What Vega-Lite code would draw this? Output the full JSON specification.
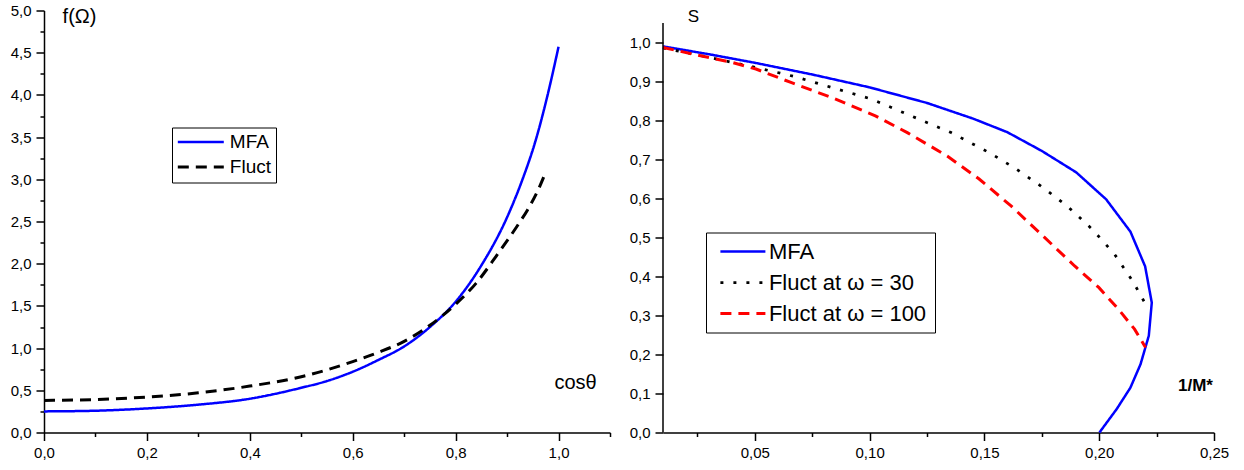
{
  "$schema": "https://vega.github.io/schema/vega-lite/v6.json",
  "padding": {"left": 10, "top": 3.5, "right": 5, "bottom": 5},
  "spacing": 18,
  "config": {
    "locale": {"number": {"decimal": ",", "thousands": ".", "grouping": [3], "currency": ["", " €"]}},
    "view": {"stroke": null},
    "font": "Liberation Sans",
    "axis": {"domainColor": "black", "domainWidth": 1.5, "tickColor": "black", "tickWidth": 1.5, "labelColor": "black", "labelFont": "Liberation Sans", "grid": false, "labelPadding": 5, "titleColor": "black", "titleFont": "Liberation Sans", "labelOverlap": false, "labelFlush": false, "titleAngle": 0, "titleAlign": "center", "titleBaseline": "middle"},
    "legend": {"labelColor": "black", "labelFont": "Liberation Sans", "fillColor": "white", "strokeColor": "black"}
  },
  "resolve": {"scale": {"color": "independent", "strokeDash": "independent", "strokeWidth": "independent"}, "legend": {"color": "independent", "strokeDash": "independent"}},
  "datasets": {
    "left": [
      {"series": "MFA", "i": 0, "x": 0.0, "f": 0.25},
      {"series": "MFA", "i": 1, "x": 0.1, "f": 0.258},
      {"series": "MFA", "i": 2, "x": 0.2, "f": 0.285},
      {"series": "MFA", "i": 3, "x": 0.3, "f": 0.33},
      {"series": "MFA", "i": 4, "x": 0.4, "f": 0.40},
      {"series": "MFA", "i": 5, "x": 0.5, "f": 0.53},
      {"series": "MFA", "i": 6, "x": 0.55, "f": 0.61},
      {"series": "MFA", "i": 7, "x": 0.6, "f": 0.72},
      {"series": "MFA", "i": 8, "x": 0.65, "f": 0.86},
      {"series": "MFA", "i": 9, "x": 0.7, "f": 1.02},
      {"series": "MFA", "i": 10, "x": 0.75, "f": 1.25},
      {"series": "MFA", "i": 11, "x": 0.8, "f": 1.55},
      {"series": "MFA", "i": 12, "x": 0.85, "f": 1.98},
      {"series": "MFA", "i": 13, "x": 0.9, "f": 2.55},
      {"series": "MFA", "i": 14, "x": 0.93, "f": 3.0},
      {"series": "MFA", "i": 15, "x": 0.955, "f": 3.45},
      {"series": "MFA", "i": 16, "x": 0.978, "f": 3.98},
      {"series": "MFA", "i": 17, "x": 1.0, "f": 4.57},
      {"series": "Fluct", "i": 0, "x": 0.0, "f": 0.38},
      {"series": "Fluct", "i": 1, "x": 0.1, "f": 0.39},
      {"series": "Fluct", "i": 2, "x": 0.2, "f": 0.42},
      {"series": "Fluct", "i": 3, "x": 0.3, "f": 0.47},
      {"series": "Fluct", "i": 4, "x": 0.4, "f": 0.55},
      {"series": "Fluct", "i": 5, "x": 0.5, "f": 0.66},
      {"series": "Fluct", "i": 6, "x": 0.6, "f": 0.84},
      {"series": "Fluct", "i": 7, "x": 0.65, "f": 0.95},
      {"series": "Fluct", "i": 8, "x": 0.7, "f": 1.08},
      {"series": "Fluct", "i": 9, "x": 0.75, "f": 1.27},
      {"series": "Fluct", "i": 10, "x": 0.8, "f": 1.52},
      {"series": "Fluct", "i": 11, "x": 0.84, "f": 1.77},
      {"series": "Fluct", "i": 12, "x": 0.88, "f": 2.1},
      {"series": "Fluct", "i": 13, "x": 0.92, "f": 2.45},
      {"series": "Fluct", "i": 14, "x": 0.94, "f": 2.64},
      {"series": "Fluct", "i": 15, "x": 0.96, "f": 2.87},
      {"series": "Fluct", "i": 16, "x": 0.972, "f": 3.04}
    ],
    "right": [
      {"curve": "MFA", "i": 0, "x": 0.01, "s": 0.99},
      {"curve": "MFA", "i": 1, "x": 0.03, "s": 0.97},
      {"curve": "MFA", "i": 2, "x": 0.05, "s": 0.948},
      {"curve": "MFA", "i": 3, "x": 0.075, "s": 0.918},
      {"curve": "MFA", "i": 4, "x": 0.10, "s": 0.885},
      {"curve": "MFA", "i": 5, "x": 0.125, "s": 0.845},
      {"curve": "MFA", "i": 6, "x": 0.145, "s": 0.805},
      {"curve": "MFA", "i": 7, "x": 0.16, "s": 0.77},
      {"curve": "MFA", "i": 8, "x": 0.175, "s": 0.722},
      {"curve": "MFA", "i": 9, "x": 0.19, "s": 0.667},
      {"curve": "MFA", "i": 10, "x": 0.203, "s": 0.598},
      {"curve": "MFA", "i": 11, "x": 0.2136, "s": 0.515},
      {"curve": "MFA", "i": 12, "x": 0.220, "s": 0.426},
      {"curve": "MFA", "i": 13, "x": 0.2229, "s": 0.333},
      {"curve": "MFA", "i": 14, "x": 0.2216, "s": 0.248},
      {"curve": "MFA", "i": 15, "x": 0.218, "s": 0.175},
      {"curve": "MFA", "i": 16, "x": 0.2136, "s": 0.115},
      {"curve": "MFA", "i": 17, "x": 0.2076, "s": 0.06},
      {"curve": "MFA", "i": 18, "x": 0.2001, "s": 0.0},
      {"curve": "Fluct at ω = 30", "i": 0, "x": 0.01, "s": 0.986},
      {"curve": "Fluct at ω = 30", "i": 1, "x": 0.03, "s": 0.962},
      {"curve": "Fluct at ω = 30", "i": 2, "x": 0.0505, "s": 0.936},
      {"curve": "Fluct at ω = 30", "i": 3, "x": 0.0678, "s": 0.912},
      {"curve": "Fluct at ω = 30", "i": 4, "x": 0.085, "s": 0.882},
      {"curve": "Fluct at ω = 30", "i": 5, "x": 0.1008, "s": 0.855},
      {"curve": "Fluct at ω = 30", "i": 6, "x": 0.118, "s": 0.812},
      {"curve": "Fluct at ω = 30", "i": 7, "x": 0.1355, "s": 0.769},
      {"curve": "Fluct at ω = 30", "i": 8, "x": 0.152, "s": 0.718},
      {"curve": "Fluct at ω = 30", "i": 9, "x": 0.163, "s": 0.679},
      {"curve": "Fluct at ω = 30", "i": 10, "x": 0.1746, "s": 0.632},
      {"curve": "Fluct at ω = 30", "i": 11, "x": 0.186, "s": 0.581},
      {"curve": "Fluct at ω = 30", "i": 12, "x": 0.197, "s": 0.521},
      {"curve": "Fluct at ω = 30", "i": 13, "x": 0.2067, "s": 0.457},
      {"curve": "Fluct at ω = 30", "i": 14, "x": 0.2145, "s": 0.389},
      {"curve": "Fluct at ω = 30", "i": 15, "x": 0.2206, "s": 0.325},
      {"curve": "Fluct at ω = 100", "i": 0, "x": 0.01, "s": 0.987},
      {"curve": "Fluct at ω = 100", "i": 1, "x": 0.04, "s": 0.949},
      {"curve": "Fluct at ω = 100", "i": 2, "x": 0.0505, "s": 0.932},
      {"curve": "Fluct at ω = 100", "i": 3, "x": 0.066, "s": 0.897},
      {"curve": "Fluct at ω = 100", "i": 4, "x": 0.0834, "s": 0.859},
      {"curve": "Fluct at ω = 100", "i": 5, "x": 0.1025, "s": 0.812},
      {"curve": "Fluct at ω = 100", "i": 6, "x": 0.1164, "s": 0.769},
      {"curve": "Fluct at ω = 100", "i": 7, "x": 0.1338, "s": 0.709},
      {"curve": "Fluct at ω = 100", "i": 8, "x": 0.1477, "s": 0.650},
      {"curve": "Fluct at ω = 100", "i": 9, "x": 0.1616, "s": 0.581},
      {"curve": "Fluct at ω = 100", "i": 10, "x": 0.1755, "s": 0.504},
      {"curve": "Fluct at ω = 100", "i": 11, "x": 0.1893, "s": 0.427},
      {"curve": "Fluct at ω = 100", "i": 12, "x": 0.1998, "s": 0.372},
      {"curve": "Fluct at ω = 100", "i": 13, "x": 0.2084, "s": 0.316},
      {"curve": "Fluct at ω = 100", "i": 14, "x": 0.2154, "s": 0.265},
      {"curve": "Fluct at ω = 100", "i": 15, "x": 0.2202, "s": 0.218}
    ]
  },
  "hconcat": [
    {
      "width": 566,
      "height": 422,
      "data": {"name": "left"},
      "mark": {"type": "line", "interpolate": "monotone"},
      "encoding": {
        "x": {"field": "x", "type": "quantitative",
          "scale": {"domain": [0, 1.1], "nice": false, "zero": false},
          "axis": {"values": [0, 0.1, 0.2, 0.3, 0.4, 0.5, 0.6, 0.7, 0.8, 0.9, 1.0, 1.1], "format": ".1f",
            "labelExpr": "round(datum.value*10) % 2 == 0 ? datum.label : ''",
            "tickSize": {"condition": {"test": "round(datum.value*10) % 2 == 0", "value": 8}, "value": 4},
            "labelFontSize": 15,
            "title": "cosθ", "titleX": 531, "titleY": -50, "titleFontSize": 20, "titleFontWeight": "normal"}},
        "y": {"field": "f", "type": "quantitative",
          "scale": {"domain": [0, 5], "nice": false, "zero": false},
          "axis": {"values": [0, 0.25, 0.5, 0.75, 1, 1.25, 1.5, 1.75, 2, 2.25, 2.5, 2.75, 3, 3.25, 3.5, 3.75, 4, 4.25, 4.5, 4.75, 5], "format": ".1f",
            "labelExpr": "round(datum.value*4) % 2 == 0 ? datum.label : ''",
            "tickSize": {"condition": {"test": "round(datum.value*4) % 2 == 0", "value": 8}, "value": 4},
            "labelFontSize": 15,
            "title": "f(Ω)", "titleX": 35, "titleY": 5.5, "titleFontSize": 20, "titleFontWeight": "normal"}},
        "color": {"field": "series", "type": "nominal",
          "scale": {"domain": ["MFA", "Fluct"], "range": ["#0000ff", "#000000"]},
          "legend": {"title": null, "orient": "none", "legendX": 128, "legendY": 117, "padding": 5, "symbolType": "M-3,0H3", "symbolSize": 235, "symbolOffset": 14.3, "symbolStrokeWidth": 2.5, "labelFontSize": 19, "labelOffset": 19.5, "rowPadding": 5}},
        "strokeDash": {"field": "series", "type": "nominal",
          "scale": {"domain": ["MFA", "Fluct"], "range": [[1, 0], [11, 7]]},
          "legend": {"title": null, "orient": "none", "legendX": 128, "legendY": 117, "padding": 5, "symbolType": "M-3,0H3", "symbolSize": 235, "symbolOffset": 14.3, "symbolStrokeWidth": 2.5, "labelFontSize": 19, "labelOffset": 19.5, "rowPadding": 5}},
        "strokeWidth": {"field": "series", "type": "nominal",
          "scale": {"domain": ["MFA", "Fluct"], "range": [2.5, 3]}, "legend": null},
        "order": {"field": "i", "type": "quantitative"}
      }
    },
    {
      "width": 551,
      "height": 422,
      "layer": [
        {
          "data": {"name": "right"},
          "mark": {"type": "line"},
          "encoding": {
            "x": {"field": "x", "type": "quantitative",
              "scale": {"domain": [0.01, 0.25], "nice": false, "zero": false},
              "axis": {"values": [0.025, 0.05, 0.075, 0.1, 0.125, 0.15, 0.175, 0.2, 0.225, 0.25], "format": ".2f",
                "labelExpr": "round(datum.value*40) % 2 == 0 ? datum.label : ''",
                "tickSize": {"condition": {"test": "round(datum.value*40) % 2 == 0", "value": 8}, "value": 4},
                "labelFontSize": 15,
                "title": "1/M*", "titleX": 532, "titleY": -47, "titleFontSize": 17, "titleFontWeight": "bold"}},
            "y": {"field": "s", "type": "quantitative",
              "scale": {"domain": [0, 1.0821], "nice": false, "zero": false},
              "axis": {"values": [0, 0.05, 0.1, 0.15, 0.2, 0.25, 0.3, 0.35, 0.4, 0.45, 0.5, 0.55, 0.6, 0.65, 0.7, 0.75, 0.8, 0.85, 0.9, 0.95, 1.0, 1.05], "format": ".1f",
                "domain": false,
                "labelExpr": "round(datum.value*20) % 2 == 0 ? datum.label : ''",
                "tickSize": {"condition": {"test": "round(datum.value*20) % 2 == 0", "value": 8}, "value": 4},
                "labelFontSize": 15,
                "title": "S", "titleX": 30, "titleY": 6, "titleFontSize": 17, "titleFontWeight": "normal"}},
            "color": {"field": "curve", "type": "nominal",
              "scale": {"domain": ["MFA", "Fluct at ω = 30", "Fluct at ω = 100"], "range": ["#0000ff", "#000000", "#ff0000"]},
              "legend": {"title": null, "orient": "none", "legendX": 43, "legendY": 222, "padding": 8, "symbolType": "M-3,0H3", "symbolSize": 225, "symbolOffset": 17.9, "symbolStrokeWidth": 2.5, "labelFontSize": 22, "labelOffset": 15, "rowPadding": 9}},
            "strokeDash": {"field": "curve", "type": "nominal",
              "scale": {"domain": ["MFA", "Fluct at ω = 30", "Fluct at ω = 100"], "range": [[1, 0], [3, 10], [11, 7]]},
              "legend": {"title": null, "orient": "none", "legendX": 43, "legendY": 222, "padding": 8, "symbolType": "M-3,0H3", "symbolSize": 225, "symbolOffset": 17.9, "symbolStrokeWidth": 2.5, "labelFontSize": 22, "labelOffset": 15, "rowPadding": 9}},
            "strokeWidth": {"field": "curve", "type": "nominal",
              "scale": {"domain": ["MFA", "Fluct at ω = 30", "Fluct at ω = 100"], "range": [2.5, 3, 2.5]}, "legend": null},
            "order": {"field": "i", "type": "quantitative"}
          }
        },
        {
          "data": {"values": [{}]},
          "mark": {"type": "rule", "color": "black", "strokeWidth": 1.5},
          "encoding": {
            "x": {"datum": 0.01, "type": "quantitative"},
            "y": {"datum": 0, "type": "quantitative"},
            "y2": {"datum": 1.05}
          }
        }
      ]
    }
  ]
}
